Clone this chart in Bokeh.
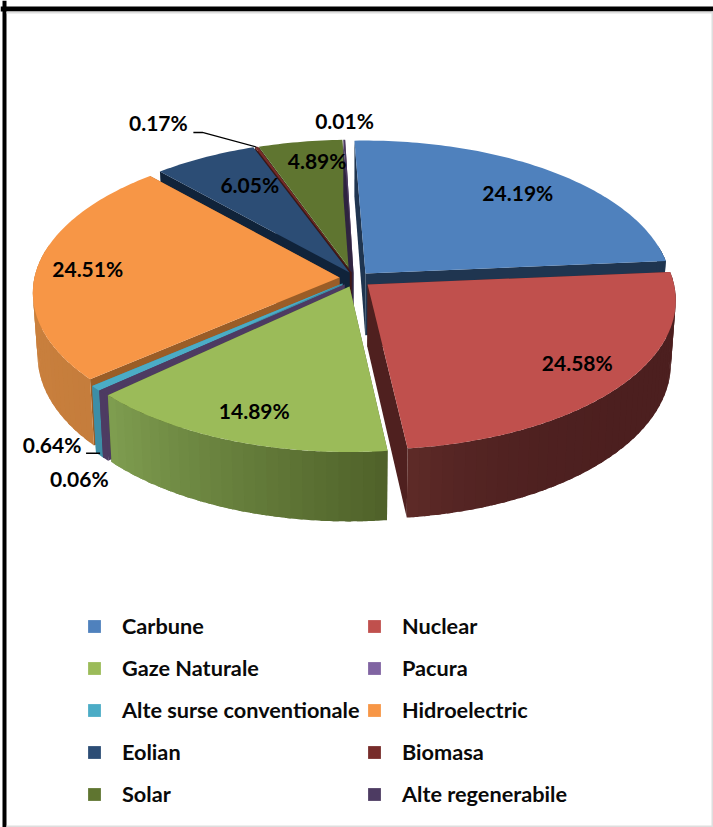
import math
from bokeh.embed import file_html
from bokeh.resources import INLINE
from bokeh.plotting import figure
from bokeh.models import ColumnDataSource, Range1d, Legend, LegendItem
from bokeh.core.properties import value

# ---- data ----
names = ["Carbune", "Nuclear", "Gaze Naturale", "Pacura", "Alte surse conventionale",
         "Hidroelectric", "Eolian", "Biomasa", "Solar", "Alte regenerabile"]
values = [24.19, 24.58, 14.89, 0.06, 0.64, 24.51, 6.05, 0.17, 4.89, 0.01]
labels = ["24.19%", "24.58%", "14.89%", "0.06%", "0.64%", "24.51%", "6.05%", "0.17%", "4.89%", "0.01%"]
colors = ["#4f81bd", "#c0504d", "#9bbb59", "#8064a2", "#4bacc6",
          "#f79646", "#2c4d75", "#772c2a", "#5f7530", "#4d3b62"]

# ---- styling of the 3D look ----
top_colors = list(colors)
top_colors[3] = "#4d3b62"
radial_wall = ["#1f3550", "#4f201f", "#4f6129", "#4d3b62", "#3d8ea6",
               "#9a5d27", "#10233a", "#3f1715", "#3c4a1e", "#2f2440"]
outer_wall = [("#1f3550", "#1f3550"), ("#4c1f1f", "#5e2b28"), ("#4f6129", "#7f9e50"),
              ("#4d3b62", "#4d3b62"), ("#3d8ea6", "#3d8ea6"), ("#c57d3c", "#d2853f"),
              ("#10233a", "#10233a"), ("#3f1715", "#3f1715"), ("#3c4a1e", "#3c4a1e"),
              ("#2f2440", "#2f2440")]
wall_gamma = [1, 6, 1, 1, 1, 1, 1, 1, 1, 1]
shift = [(15, -4), (17, 7), (-1, 9), (-6, 7), (-8, 6), (-11, 0), (-1, -5), (1, -5), (2, -5), (3, -5)]
draw_pad = [(0, 0), (0, 0), (0, 0), (0.5, 1.5), (0, 0), (0, 0), (0, 0), (0, 0), (0, 0), (0, 0.4)]
paint_order = [8, 9, 7, 6, 0, 5, 4, 3, 2, 1]

START = -2.0
CX, CY, A, B, K, DEPTH, SHRINK = 350.0, 277.0, 305.0, 147.0, 0.1, 62.0, 0.985

label_r = [0.84, 0.894, 0.889, 1.443, 1.353, 0.868, 0.748, 1.358, 0.857, 1.187]
label_turn = [2.3, -1.1, -1.4, -14.5, -8.1, -0.2, 3.1, -11.2, 2.9, 1.0]
LABEL_RAISE = 1.5


def hex_rgb(h):
    return tuple(int(h[i:i + 2], 16) for i in (1, 3, 5))


def mix(c0, c1, t):
    a, b = hex_rgb(c0), hex_rgb(c1)
    return "#%02x%02x%02x" % tuple(round(a[i] + (b[i] - a[i]) * t) for i in range(3))


def project(theta, r, off=(0, 0), low=False):
    rad = math.radians(theta)
    u = r * math.sin(rad) + off[0] / A
    v = r * math.cos(rad) - off[1] / B
    s = 1 / (1 + K * v)
    x = A * u * s
    y = -B * v * s
    if low:
        return CX + x * SHRINK, CY + y + DEPTH * s
    return CX + x, CY + y


starts, ends = [], []
acc = 0.0
for val in values:
    starts.append(START + acc * 3.6)
    acc += val
    ends.append(START + acc * 3.6)

xs, ys, fills = [], [], []


def add(poly, color):
    xs.append([pt[0] for pt in poly])
    ys.append([pt[1] for pt in poly])
    fills.append(color)


for i in paint_order:
    a0 = starts[i] - draw_pad[i][0]
    a1 = max(ends[i], a0 + draw_pad[i][1])
    off = shift[i]
    # radial walls
    for ang in (a0, a1):
        add([project(ang, 0, off), project(ang, 1, off), project(ang, 1, off, True), project(ang, 0, off, True)],
            radial_wall[i])
    # outer wall as shaded, slightly overlapping strips (front-facing part only)
    n = max(1, int((a1 - a0) / 2))
    step = (a1 - a0) / n
    for j in range(n):
        t0, t1 = a0 + j * step, a0 + (j + 1) * step
        if math.cos(math.radians((t0 + t1) / 2)) > 0.2:
            continue
        arc = [t0 + (t1 - t0) * q / 4 for q in range(5)]
        upper = [project(t, 1, off) for t in arc]
        lower = [project(t, 1, off, True) for t in reversed(arc)]
        if j < n - 1:
            over = project(t1 + step * 0.5, 1, off)
            over_low = project(t1 + step * 0.5, 1, off, True)
            upper.append(over)
            lower.insert(0, over_low)
        add(upper + lower, mix(outer_wall[i][0], outer_wall[i][1], ((j + 0.5) / n) ** wall_gamma[i]))
    # top face
    m = max(2, int((a1 - a0) / 1.0))
    rim = [project(a0 + (a1 - a0) * j / m, 1, off) for j in range(m + 1)]
    add([project(a0, 0, off)] + rim, top_colors[i])

p = figure(width=713, height=827, output_backend="svg", toolbar_location=None,
           x_range=Range1d(0, 713), y_range=Range1d(827, 0), min_border=0,
           margin=(0, 0, 0, 0), background_fill_color="white", border_fill_color="white")
p.axis.visible = False
p.grid.visible = False
p.outline_line_color = None

# picture frame
p.quad(left=[0], right=[713], top=[6], bottom=[11], fill_color="black", line_color=None)
p.quad(left=[2], right=[6], top=[0], bottom=[827], fill_color="black", line_color=None)
p.quad(left=[6, 711, 6], right=[713, 713, 713], top=[11, 11, 825], bottom=[13, 827, 827],
       fill_color="#dedede", line_color=None)

src = ColumnDataSource(dict(xs=xs, ys=ys, fill=fills))
p.patches("xs", "ys", source=src, fill_color="fill", line_color=None)

# leader lines
mid = [(starts[i] + ends[i]) / 2 for i in range(len(values))]
lab_xy = [project(mid[i] + label_turn[i], label_r[i]) for i in range(len(values))]
for i, elbow in ((7, [(35, 8), (44, 8)]), (4, [(34, 7), (48, 7)])):
    lx, ly = lab_xy[i]
    pts = [(lx + ex, ly + ey) for ex, ey in elbow]
    if i == 7:
        pts.append(project(mid[i], 1, shift[i]))
    p.line([q[0] for q in pts], [q[1] for q in pts], line_color="black", line_width=1.3)

# value labels
p.text(x=[q[0] for q in lab_xy], y=[q[1] - LABEL_RAISE for q in lab_xy], text=labels,
       text_font=value("Lato"), text_font_style="bold", text_font_size="21px",
       text_color="black", text_align="center", text_baseline="middle")

# legend keys
keys = [p.patch(x=[float("nan")] * 3, y=[float("nan")] * 3, fill_color=c, line_alpha=0) for c in colors]


def make_legend(idx, x):
    leg = Legend(items=[LegendItem(label=names[i], renderers=[keys[i]]) for i in idx],
                 location=(x, 20), orientation="vertical",
                 glyph_width=16, glyph_height=16, label_height=13, spacing=16, label_standoff=20,
                 padding=0, margin=0, border_line_alpha=0, background_fill_alpha=0,
                 label_text_font="Lato", label_text_font_style="bold", label_text_font_size="21.7px",
                 label_text_color="#0a0a0a")
    p.add_layout(leg, "center")


make_legend([0, 2, 4, 6, 8], 86)
make_legend([1, 3, 5, 7, 9], 366)

open("out.html", "w").write(file_html(p, INLINE))
